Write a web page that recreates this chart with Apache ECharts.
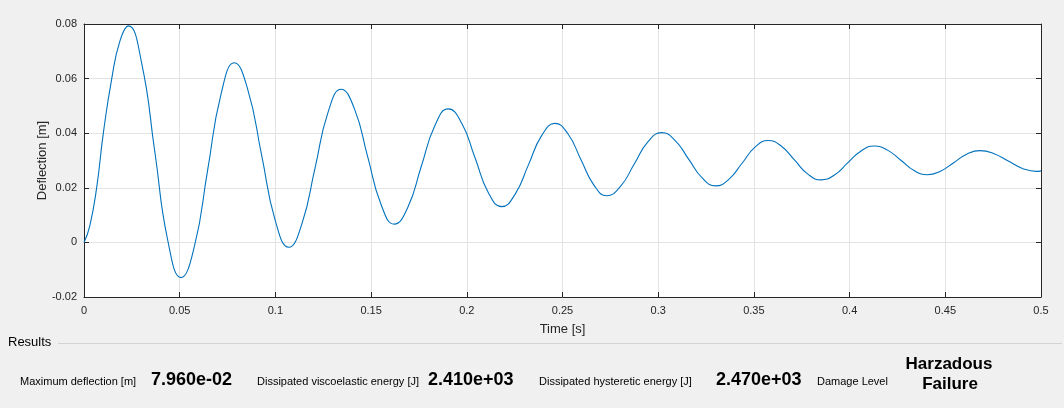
<!DOCTYPE html>
<html>
<head>
<meta charset="utf-8">
<script src="https://cdn.jsdelivr.net/npm/echarts@6/dist/echarts.min.js"></script>
<style>
html,body{margin:0;padding:0;background:#f0f0f0;}
#chart{width:1064px;height:408px;}
</style>
</head>
<body>
<div id="chart"></div>
<script>
// Time [s] samples
const times = [
  0, 0.003, 0.0066, 0.0101, 0.0145, 0.0188, 0.0232, 0.0301, 0.037, 0.0438, 0.0507, 0.0577, 0.0646, 0.0716,
  0.0785, 0.0856, 0.0928, 0.0999, 0.107, 0.1138, 0.1207, 0.1275, 0.1343, 0.1413, 0.1482, 0.1552, 0.1621,
  0.1692, 0.1762, 0.1833, 0.1903, 0.1973, 0.2043, 0.2112, 0.2182, 0.2252, 0.2322, 0.2391, 0.2461, 0.2529,
  0.2596, 0.2664, 0.2731, 0.2803, 0.2875, 0.2946, 0.3018, 0.3089, 0.3159, 0.323, 0.33, 0.3369, 0.3438,
  0.3506, 0.3575, 0.3644, 0.3713, 0.3782, 0.3851, 0.3921, 0.399, 0.406, 0.4129, 0.4198, 0.4268, 0.4337,
  0.4406, 0.4475, 0.4544, 0.4612, 0.4681, 0.4755, 0.4829, 0.4903, 0.4977, 0.5
];
// Deflection [m] values
const deflection = [
  0, 0.006, 0.02, 0.04, 0.06, 0.0738, 0.0793, 0.0658, 0.0332, 0.0006, -0.0129, -0.0014, 0.0265, 0.0543,
  0.0658, 0.0559, 0.032, 0.0081, -0.0018, 0.0067, 0.0272, 0.0476, 0.0561, 0.0489, 0.0314, 0.0139, 0.0067,
  0.0129, 0.0278, 0.0427, 0.0489, 0.0437, 0.031, 0.0183, 0.0131, 0.0176, 0.0284, 0.0391, 0.0436, 0.0397,
  0.0304, 0.021, 0.0171, 0.0205, 0.0287, 0.0368, 0.0402, 0.0373, 0.0305, 0.0236, 0.0207, 0.0231, 0.029,
  0.0349, 0.0373, 0.0352, 0.0301, 0.025, 0.0229, 0.0247, 0.0291, 0.0335, 0.0353, 0.0338, 0.0301, 0.0263,
  0.0248, 0.0261, 0.0292, 0.0323, 0.0336, 0.0325, 0.0298, 0.0271, 0.026, 0.0262
];
const xTicks = ['0','0.05','0.1','0.15','0.2','0.25','0.3','0.35','0.4','0.45','0.5'];
const yTicks = ['-0.02','0','0.02','0.04','0.06','0.08'];
const resultLabels = ['Maximum deflection [m]','Dissipated viscoelastic energy [J]','Dissipated hysteretic energy [J]','Damage Level'];
const resultValues = ['7.960e-02','2.410e+03','2.470e+03'];
const damageLevel = ['Harzadous','Failure'];

const seriesData = times.map((t, i) => [t, deflection[i]]);
const fmt = v => String(Number(v.toFixed(2)));
const FONT = '"Liberation Sans", Arial, sans-serif';
const axisCol = '#262626';

const chart = echarts.init(document.getElementById('chart'), null, {renderer: 'canvas'});
const commonX = {
  type: 'value', min: 0, max: 0.5, interval: 0.05,
  axisLine: {show: true, onZero: false, lineStyle: {color: axisCol, width: 1}},
  axisTick: {show: true, inside: true, length: 5, lineStyle: {color: axisCol}},
};
const commonY = {
  type: 'value', min: -0.02, max: 0.08, interval: 0.02,
  axisLine: {show: true, onZero: false, lineStyle: {color: axisCol, width: 1}},
  axisTick: {show: true, inside: true, length: 5, lineStyle: {color: axisCol}},
};
chart.setOption({
  backgroundColor: '#f0f0f0',
  animation: false,
  grid: {left: 84, right: 23, top: 24, bottom: 111, show: true, backgroundColor: '#ffffff', borderWidth: 0},
  xAxis: [
    Object.assign({}, commonX, {
      position: 'bottom',
      name: 'Time [s]', nameLocation: 'middle', nameGap: 26, nameMoveOverlap: false,
      nameTextStyle: {color: axisCol, fontFamily: FONT, fontSize: 13},
      axisLabel: {color: axisCol, fontFamily: FONT, fontSize: 11, margin: 8,
        formatter: v => xTicks[Math.round(v / 0.05)] ?? fmt(v)},
      splitLine: {show: true, lineStyle: {color: '#e3e3e3', width: 1}}
    }),
    Object.assign({}, commonX, {position: 'top', axisLabel: {show: false}, splitLine: {show: false}})
  ],
  yAxis: [
    Object.assign({}, commonY, {
      position: 'left',
      name: 'Deflection [m]', nameLocation: 'middle', nameGap: 35, nameRotate: 90, nameMoveOverlap: false,
      nameTextStyle: {color: axisCol, fontFamily: FONT, fontSize: 13},
      axisLabel: {color: axisCol, fontFamily: FONT, fontSize: 11, margin: 7,
        formatter: v => yTicks[Math.round((v + 0.02) / 0.02)] ?? fmt(v)},
      splitLine: {show: true, lineStyle: {color: '#e3e3e3', width: 1}}
    }),
    Object.assign({}, commonY, {position: 'right', axisLabel: {show: false}, splitLine: {show: false}})
  ],
  series: [{
    type: 'line', data: seriesData, smooth: 0.5, showSymbol: false,
    xAxisIndex: 0, yAxisIndex: 0,
    lineStyle: {color: '#0072BD', width: 1.1}
  }],
  graphic: [
    {type: 'text', left: 8, top: 336, style: {text: 'Results', fill: '#000', font: '13px ' + FONT}},
    {type: 'line', shape: {x1: 58, y1: 343.5, x2: 1062, y2: 343.5}, style: {stroke: '#d3d3d3', lineWidth: 1}},
    {type: 'text', left: 20, top: 376, style: {text: resultLabels[0], fill: '#000', font: '11px ' + FONT}},
    {type: 'text', left: 151, top: 371, style: {text: resultValues[0], fill: '#000', font: 'bold 18px ' + FONT}},
    {type: 'text', left: 257, top: 376, style: {text: resultLabels[1], fill: '#000', font: '11px ' + FONT}},
    {type: 'text', left: 428, top: 371, style: {text: resultValues[1], fill: '#000', font: 'bold 18px ' + FONT}},
    {type: 'text', left: 539, top: 376, style: {text: resultLabels[2], fill: '#000', font: '11px ' + FONT}},
    {type: 'text', left: 716, top: 371, style: {text: resultValues[2], fill: '#000', font: 'bold 18px ' + FONT}},
    {type: 'text', left: 817, top: 376, style: {text: resultLabels[3], fill: '#000', font: '11px ' + FONT}},
    {type: 'text', x: 949, y: 356, style: {text: damageLevel[0], fill: '#000', font: 'bold 17px ' + FONT, align: 'center'}},
    {type: 'text', x: 950, y: 376, style: {text: damageLevel[1], fill: '#000', font: 'bold 17px ' + FONT, align: 'center'}}
  ]
});
</script>
</body>
</html>
